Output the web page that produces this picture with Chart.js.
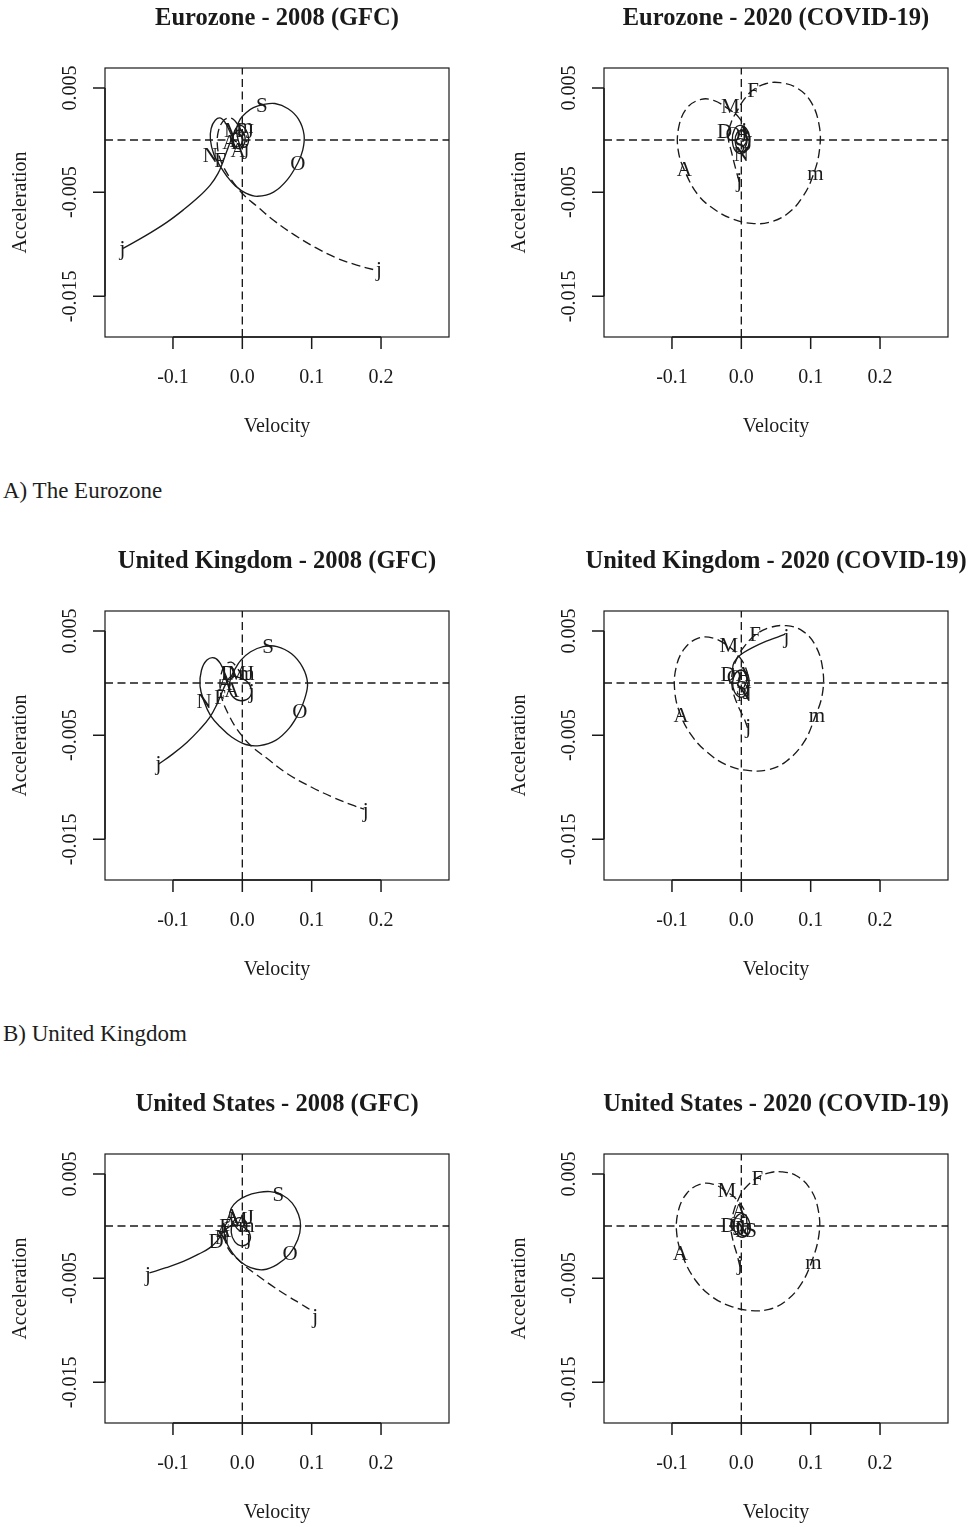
<!DOCTYPE html>
<html>
<head>
<meta charset="utf-8">
<title>Phase-plane plots: velocity vs acceleration</title>
<script src="https://cdn.jsdelivr.net/npm/chart.js@4.4.1/dist/chart.umd.min.js"></script>
<style>
  html, body { margin: 0; padding: 0; background: #fff; }
  body { position: relative; width: 972px; height: 1527px; overflow: hidden; font-family: "Liberation Serif", "Times New Roman", serif; }
  canvas { position: absolute; }
  .section { position: absolute; left: 3px; font-size: 23px; line-height: 1; color: #1d1d1d; white-space: nowrap; }
</style>
</head>
<body>
<canvas id="p0" width="486" height="470" style="left:0px;top:0px"></canvas>
<canvas id="p1" width="486" height="470" style="left:486px;top:0px"></canvas>
<div class="section" style="top:479px">A) The Eurozone</div>
<canvas id="p2" width="486" height="470" style="left:0px;top:543px"></canvas>
<canvas id="p3" width="486" height="470" style="left:486px;top:543px"></canvas>
<div class="section" style="top:1022px">B) United Kingdom</div>
<canvas id="p4" width="486" height="470" style="left:0px;top:1086px"></canvas>
<canvas id="p5" width="486" height="470" style="left:486px;top:1086px"></canvas>

<script>
// ---- axes ----
const X_MIN = -0.198, X_MAX = 0.298;
const Y_MIN = -0.0189, Y_MAX = 0.00691;
const xTicks = [-0.1, 0, 0.1, 0.2];
const xTickLabels = ['-0.1', '0.0', '0.1', '0.2'];
const yTicks = [0.005, -0.005, -0.015];
const yTickLabels = ['0.005', '-0.005', '-0.015'];
const xTitle = 'Velocity';
const yTitle = 'Acceleration';

const titles = [
  'Eurozone - 2008 (GFC)', 'Eurozone - 2020 (COVID-19)',
  'United Kingdom - 2008 (GFC)', 'United Kingdom - 2020 (COVID-19)',
  'United States - 2008 (GFC)', 'United States - 2020 (COVID-19)'
];

// ---- Eurozone, 2008 ----  [velocity, acceleration]
const euroGfcSolid = [
  [-0.172,-0.0104],[-0.140,-0.0092],[-0.109,-0.0079],[-0.085,-0.0067],[-0.062,-0.0054],
  [-0.046,-0.0043],[-0.035,-0.0032],[-0.028,-0.0021],[-0.022,-0.0010],[-0.016,0.0000],
  [-0.009,0.0008],[-0.001,0.0009],[0.004,0.0002],[0.001,-0.0006],[-0.007,-0.0008],
  [-0.013,-0.0001],[-0.011,0.0009],[-0.003,0.0014],[0.005,0.0010],[0.009,0.0002],
  [0.006,-0.0006],[-0.002,-0.0006],[-0.007,0.0003],[-0.008,0.0012],[-0.003,0.0020],
  [0.005,0.0026],[0.016,0.0031],[0.030,0.0034],[0.047,0.0035],[0.066,0.0030],
  [0.081,0.0020],[0.089,0.0005],[0.087,-0.0010],[0.080,-0.0022],[0.065,-0.0038],
  [0.045,-0.0050],[0.022,-0.0054],[0.005,-0.0051],[-0.010,-0.0044],[-0.022,-0.0035],
  [-0.032,-0.0025],[-0.041,-0.0014],[-0.046,0.0000],[-0.045,0.0011],[-0.039,0.0019],
  [-0.031,0.0021],[-0.024,0.0016],[-0.018,0.0008],[-0.012,0.0000],[-0.008,-0.0002]
];
const euroGfcDashed = [
  [0.003,0.0004],[-0.005,0.0013],[-0.013,0.0020],[-0.021,0.0021],[-0.029,0.0017],
  [-0.035,0.0007],[-0.036,-0.0005],[-0.033,-0.0016],[-0.027,-0.0026],[-0.018,-0.0036],
  [-0.008,-0.0045],[0.004,-0.0054],[0.020,-0.0063],[0.045,-0.0077],[0.075,-0.0091],
  [0.105,-0.0103],[0.135,-0.0113],[0.165,-0.0120],[0.193,-0.0125]
];
const euroGfcMonths = [
  ['j',-0.173,-0.0105],['F',-0.032,-0.0021],['M',-0.013,0.0008],['A',-0.018,-0.0003],
  ['m',0.004,0.0012],['J',0.011,0.0007],['j',0.006,-0.0008],['A',-0.006,-0.0011],
  ['S',0.028,0.0032],['O',0.080,-0.0023],['N',-0.046,-0.0016],['D',-0.008,-0.0001],
  ['j',0.197,-0.0125]
];

// ---- Eurozone, 2020 ----
const euroCovidSolid = [
  [0.000,0.0010],[0.008,0.0008],[0.012,0.0000],[0.009,-0.0009],[0.000,-0.0013],
  [-0.009,-0.0010],[-0.013,0.0000],[-0.010,0.0010],[-0.002,0.0014],[0.007,0.0011],
  [0.012,0.0003],[0.010,-0.0006],[0.003,-0.0011],[-0.005,-0.0009],[-0.009,-0.0001],
  [-0.006,0.0007],[0.001,0.0009],[0.006,0.0005],[0.007,-0.0002],[0.003,-0.0006]
];
const euroCovidDashed = [
  [-0.003,-0.0040],[-0.008,-0.0028],[-0.014,-0.0012],[-0.019,0.0004],[-0.014,0.0018],
  [-0.006,0.0028],[0.002,0.0037],[0.015,0.0047],[0.035,0.0054],[0.056,0.0055],
  [0.080,0.0050],[0.100,0.0037],[0.112,0.0015],[0.113,-0.0008],[0.104,-0.0033],
  [0.088,-0.0055],[0.066,-0.0071],[0.040,-0.0079],[0.015,-0.0080],[-0.012,-0.0076],
  [-0.040,-0.0066],[-0.062,-0.0053],[-0.080,-0.0032],[-0.091,-0.0010],[-0.090,0.0013],
  [-0.078,0.0031],[-0.058,0.0039],[-0.040,0.0038],[-0.019,0.0030],[-0.004,0.0022],
  [0.006,0.0010],[0.008,-0.0002],[0.003,-0.0010]
];
const euroCovidMonths = [
  ['j',-0.003,-0.0040],['F',0.017,0.0047],['M',-0.016,0.0031],['A',-0.082,-0.0029],
  ['m',0.107,-0.0033],['J',0.010,-0.0004],['j',0.004,0.0008],['A',0.002,0.0005],
  ['S',-0.002,-0.0006],['O',-0.012,0.0004],['N',0.000,-0.0015],['D',-0.024,0.0007]
];

// ---- United Kingdom, 2008 ----
const ukGfcSolid = [
  [-0.121,-0.0078],[-0.100,-0.0068],[-0.080,-0.0057],[-0.062,-0.0045],[-0.047,-0.0033],
  [-0.037,-0.0021],[-0.030,-0.0010],[-0.024,-0.0001],[-0.017,0.0006],[-0.008,0.0006],
  [0.006,0.0002],[0.013,-0.0006],[0.010,-0.0014],[-0.002,-0.0017],[-0.014,-0.0013],
  [-0.019,-0.0004],[-0.016,0.0006],[-0.010,0.0014],[-0.002,0.0022],[0.012,0.0030],
  [0.030,0.0035],[0.050,0.0035],[0.071,0.0028],[0.087,0.0015],[0.094,0.0000],
  [0.090,-0.0015],[0.082,-0.0028],[0.068,-0.0043],[0.048,-0.0055],[0.025,-0.0060],
  [0.005,-0.0059],[-0.015,-0.0052],[-0.032,-0.0042],[-0.046,-0.0031],[-0.055,-0.0018],
  [-0.061,-0.0003],[-0.059,0.0012],[-0.051,0.0022],[-0.040,0.0024],[-0.031,0.0018],
  [-0.025,0.0009],[-0.020,0.0001]
];
const ukGfcDashed = [
  [0.000,0.0006],[-0.008,0.0015],[-0.016,0.0020],[-0.025,0.0017],[-0.031,0.0007],
  [-0.032,-0.0006],[-0.028,-0.0018],[-0.020,-0.0030],[-0.011,-0.0041],[0.000,-0.0051],
  [0.012,-0.0060],[0.035,-0.0072],[0.065,-0.0087],[0.100,-0.0100],[0.132,-0.0110],
  [0.158,-0.0117],[0.176,-0.0121]
];
const ukGfcMonths = [
  ['j',-0.121,-0.0078],['F',-0.032,-0.0015],['M',-0.008,0.0008],['A',-0.025,-0.0001],
  ['m',0.006,0.0008],['J',0.011,0.0008],['j',0.0135,-0.0009],['A',-0.015,-0.0008],
  ['S',0.037,0.0034],['O',0.083,-0.0028],['N',-0.055,-0.0019],['D',-0.020,0.0008],
  ['j',0.178,-0.0123]
];

// ---- United Kingdom, 2020 ----
const ukCovidSolid = [
  [0.004,-0.0004],[0.008,0.0004],[0.004,0.0011],[-0.004,0.0012],[-0.011,0.0006],
  [-0.012,-0.0004],[-0.006,-0.0012],[0.003,-0.0013],[0.010,-0.0006],[0.011,0.0004],
  [0.006,0.0011],[-0.003,0.0012],[-0.010,0.0009],[-0.012,0.0017],[-0.006,0.0024],
  [0.003,0.0029],[0.016,0.0034],[0.032,0.0039],[0.048,0.0043],[0.063,0.0047]
];
const ukCovidDashed = [
  [0.009,-0.0043],[0.004,-0.0034],[-0.006,-0.0020],[-0.013,-0.0005],[-0.013,0.0010],
  [-0.006,0.0024],[0.003,0.0034],[0.020,0.0046],[0.040,0.0053],[0.065,0.0055],
  [0.088,0.0050],[0.106,0.0037],[0.117,0.0015],[0.117,-0.0010],[0.106,-0.0033],
  [0.090,-0.0057],[0.065,-0.0075],[0.040,-0.0083],[0.012,-0.0084],[-0.020,-0.0079],
  [-0.050,-0.0066],[-0.072,-0.0050],[-0.088,-0.0030],[-0.096,-0.0008],[-0.094,0.0015],
  [-0.082,0.0033],[-0.062,0.0043],[-0.040,0.0043],[-0.020,0.0036],[-0.005,0.0027],
  [0.006,0.0015],[0.010,0.0002],[0.005,-0.0008]
];
const ukCovidMonths = [
  ['j',0.010,-0.0043],['F',0.020,0.0046],['M',-0.018,0.0035],['A',-0.087,-0.0032],
  ['m',0.109,-0.0032],['J',0.008,-0.0010],['j',0.065,0.0044],['A',0.003,0.0007],
  ['S',0.000,-0.0006],['O',-0.010,0.0004],['N',0.004,-0.0012],['D',-0.019,0.0007]
];

// ---- United States, 2008 ----
const usGfcSolid = [
  [-0.134,-0.0045],[-0.110,-0.0040],[-0.085,-0.0034],[-0.063,-0.0027],[-0.047,-0.0021],
  [-0.036,-0.0014],[-0.028,-0.0006],[-0.020,-0.0001],[-0.010,0.0001],[0.002,-0.0001],
  [0.011,-0.0008],[0.009,-0.0016],[-0.001,-0.0019],[-0.011,-0.0015],[-0.016,-0.0006],
  [-0.013,0.0004],[-0.004,0.0008],[0.005,0.0004],[0.004,-0.0004],[-0.005,-0.0004],
  [-0.012,0.0002],[-0.018,0.0009],[-0.016,0.0017],[-0.007,0.0024],[0.006,0.0029],
  [0.022,0.0032],[0.040,0.0033],[0.057,0.0030],[0.072,0.0022],[0.081,0.0011],
  [0.084,0.0000],[0.080,-0.0013],[0.068,-0.0027],[0.050,-0.0037],[0.030,-0.0042],
  [0.012,-0.0040],[-0.003,-0.0034],[-0.014,-0.0026],[-0.022,-0.0017],[-0.026,-0.0008],
  [-0.025,0.0000],[-0.020,0.0005]
];
const usGfcDashed = [
  [-0.024,-0.0008],[-0.024,-0.0016],[-0.018,-0.0024],[-0.008,-0.0031],[0.005,-0.0039],
  [0.021,-0.0047],[0.042,-0.0057],[0.065,-0.0067],[0.085,-0.0075],[0.102,-0.0082]
];
const usGfcMonths = [
  ['j',-0.136,-0.0047],['F',-0.025,-0.0001],['M',-0.006,0.0005],['A',-0.015,0.0008],
  ['m',0.006,0.0000],['J',0.011,0.0007],['j',0.009,-0.0012],['A',-0.027,-0.0005],
  ['S',0.052,0.0029],['O',0.069,-0.0027],['N',-0.029,-0.0012],['D',-0.038,-0.0016],
  ['j',0.105,-0.0088]
];

// ---- United States, 2020 ----
const usCovidSolid = [
  [0.003,0.0002],[0.010,0.0002],[0.012,-0.0005],[0.006,-0.0010],[-0.003,-0.0010],
  [-0.010,-0.0004],[-0.010,0.0005],[-0.004,0.0011],[0.005,0.0011],[0.011,0.0005],
  [0.013,-0.0003],[0.008,-0.0009],[-0.001,-0.0008],[-0.006,-0.0002],[-0.003,0.0004],
  [0.003,0.0004]
];
const usCovidDashed = [
  [-0.002,-0.0039],[-0.006,-0.0028],[-0.012,-0.0014],[-0.015,0.0000],[-0.011,0.0014],
  [-0.004,0.0026],[0.005,0.0036],[0.022,0.0046],[0.040,0.0051],[0.058,0.0052],
  [0.080,0.0048],[0.100,0.0035],[0.111,0.0015],[0.112,-0.0008],[0.101,-0.0035],
  [0.085,-0.0057],[0.064,-0.0072],[0.040,-0.0080],[0.012,-0.0081],[-0.015,-0.0077],
  [-0.042,-0.0068],[-0.065,-0.0053],[-0.084,-0.0030],[-0.093,-0.0008],[-0.091,0.0014],
  [-0.079,0.0031],[-0.060,0.0040],[-0.040,0.0040],[-0.021,0.0033],[-0.006,0.0025],
  [0.005,0.0014],[0.008,0.0002],[0.004,-0.0007]
];
const usCovidMonths = [
  ['j',-0.002,-0.0037],['F',0.023,0.0045],['M',-0.021,0.0033],['A',-0.088,-0.0027],
  ['m',0.104,-0.0036],['J',-0.006,-0.0003],['j',0.002,0.0001],['A',-0.003,0.0013],
  ['S',0.014,-0.0005],['O',-0.006,0.0000],['N',0.002,-0.0005],['D',-0.019,0.0000]
];

// ---- drawing ----
const INK = '#1a1a1a';
const SERIF = '"Liberation Serif", "Times New Roman", serif';
const CANVAS_W = 486, CANVAS_H = 470;
const BOX = { top: 68, bottom: 337 };
const BOX_X = [{ left: 105, right: 449 }, { left: 604, right: 948 }];

const toXY = pts => pts.map(([v, a]) => ({ x: v, y: a }));

// frame, axes, titles and month letters in R base-graphics style
const framePlugin = {
  id: 'frame',
  afterDatasetsDraw(chart) {
    const { ctx, chartArea: ar, scales: { x, y } } = chart;
    const opts = chart.options.plugins.frame;
    ctx.save();
    ctx.strokeStyle = INK;
    ctx.fillStyle = INK;

    ctx.lineWidth = 1.2;
    ctx.strokeRect(ar.left, ar.top, ar.right - ar.left, ar.bottom - ar.top);

    ctx.lineWidth = 1.5;
    ctx.beginPath();
    ctx.moveTo(x.getPixelForValue(xTicks[0]), ar.bottom);
    ctx.lineTo(x.getPixelForValue(xTicks[xTicks.length - 1]), ar.bottom);
    xTicks.forEach(v => {
      const px = x.getPixelForValue(v);
      ctx.moveTo(px, ar.bottom);
      ctx.lineTo(px, ar.bottom + 12);
    });
    ctx.moveTo(ar.left, y.getPixelForValue(yTicks[0]));
    ctx.lineTo(ar.left, y.getPixelForValue(yTicks[yTicks.length - 1]));
    yTicks.forEach(v => {
      const py = y.getPixelForValue(v);
      ctx.moveTo(ar.left, py);
      ctx.lineTo(ar.left - 12, py);
    });
    ctx.stroke();

    ctx.font = '20px ' + SERIF;
    ctx.textAlign = 'center';
    ctx.textBaseline = 'alphabetic';
    xTicks.forEach((v, i) => ctx.fillText(xTickLabels[i], x.getPixelForValue(v), ar.bottom + 46));
    yTicks.forEach((v, i) => {
      ctx.save();
      ctx.translate(ar.left - 29, y.getPixelForValue(v));
      ctx.rotate(-Math.PI / 2);
      ctx.fillText(yTickLabels[i], 0, 0);
      ctx.restore();
    });

    const cx = (ar.left + ar.right) / 2;
    const cy = (ar.top + ar.bottom) / 2;
    ctx.fillText(xTitle, cx, ar.bottom + 95);
    ctx.save();
    ctx.translate(ar.left - 79, cy);
    ctx.rotate(-Math.PI / 2);
    ctx.fillText(yTitle, 0, 0);
    ctx.restore();

    ctx.font = 'bold 24.5px ' + SERIF;
    ctx.fillText(opts.title, cx, 25);

    ctx.font = '21px ' + SERIF;
    ctx.textBaseline = 'middle';
    opts.months.forEach(([t, v, a]) => ctx.fillText(t, x.getPixelForValue(v), y.getPixelForValue(a)));
    ctx.restore();
  }
};

function phasePlane(id, col, title, solid, dashed, months) {
  const box = BOX_X[col];
  const canvasLeft = col * CANVAS_W;
  const line = (data, dash, tension) => ({
    data, showLine: true, pointRadius: 0, pointHoverRadius: 0,
    borderColor: INK, borderWidth: 1.35, borderDash: dash,
    tension, borderJoinStyle: 'round', fill: false
  });
  new Chart(document.getElementById(id), {
    type: 'scatter',
    data: {
      datasets: [
        line([{ x: X_MIN, y: 0 }, { x: X_MAX, y: 0 }], [8, 4.5], 0),
        line([{ x: 0, y: Y_MIN }, { x: 0, y: Y_MAX }], [8, 4.5], 0),
        line(toXY(solid), [], 0.4),
        line(toXY(dashed), [9, 4.5], 0.4)
      ]
    },
    options: {
      responsive: false,
      animation: false,
      devicePixelRatio: 1,
      layout: {
        padding: {
          left: box.left - canvasLeft,
          right: canvasLeft + CANVAS_W - box.right,
          top: BOX.top,
          bottom: CANVAS_H - BOX.bottom
        }
      },
      scales: {
        x: { type: 'linear', min: X_MIN, max: X_MAX, display: false },
        y: { type: 'linear', min: Y_MIN, max: Y_MAX, display: false }
      },
      plugins: {
        legend: { display: false },
        tooltip: { enabled: false },
        frame: { title, months }
      },
      events: []
    },
    plugins: [framePlugin]
  });
}

phasePlane('p0', 0, titles[0], euroGfcSolid, euroGfcDashed, euroGfcMonths);
phasePlane('p1', 1, titles[1], euroCovidSolid, euroCovidDashed, euroCovidMonths);
phasePlane('p2', 0, titles[2], ukGfcSolid, ukGfcDashed, ukGfcMonths);
phasePlane('p3', 1, titles[3], ukCovidSolid, ukCovidDashed, ukCovidMonths);
phasePlane('p4', 0, titles[4], usGfcSolid, usGfcDashed, usGfcMonths);
phasePlane('p5', 1, titles[5], usCovidSolid, usCovidDashed, usCovidMonths);
</script>
</body>
</html>
